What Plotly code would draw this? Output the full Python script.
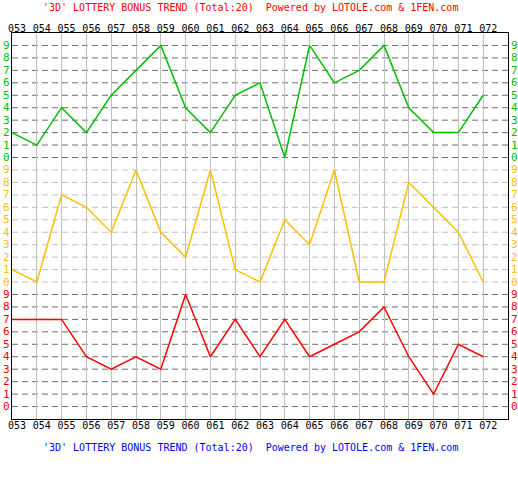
import plotly.graph_objects as go

# draw periods and the three digits (hundreds / tens / units)
periods = ["053", "054", "055", "056", "057", "058", "059", "060", "061", "062",
           "063", "064", "065", "066", "067", "068", "069", "070", "071", "072"]
green = [2, 1, 4, 2, 5, 7, 9, 4, 2, 5, 6, 0, 9, 6, 7, 9, 4, 2, 2, 5]
yellow = [1, 0, 7, 6, 4, 9, 4, 2, 9, 1, 0, 5, 3, 9, 0, 0, 8, 6, 4, 0]
red = [7, 7, 7, 4, 3, 4, 3, 9, 4, 7, 4, 7, 4, 5, 6, 8, 4, 1, 5, 4]
digits = list(range(10))

TITLE = "'3D' LOTTERY BONUS TREND (Total:20)  Powered by LOTOLE.com & 1FEN.com"
FONT = "DejaVu Sans Mono"

# each band gets its own block of 10 levels, stacked bottom to top
bands = [
    (red, 0, "#ff0000", "#6e6e6e"),
    (yellow, 10, "#ffbf00", "#c0c0c0"),
    (green, 20, "#00c000", "#6e6e6e"),
]

x = list(range(len(periods)))

fig = go.Figure()
shapes = []
annotations = []

for values, offset, color, grid in bands:
    fig.add_trace(go.Scatter(
        x=x,
        y=[v + offset for v in values],
        mode="lines",
        line=dict(color=color, width=1.5),
        hoverinfo="skip",
        showlegend=False
    ))
    for d in digits:
        shapes.append(dict(
            type="line", xref="paper", yref="y",
            x0=0, x1=1, y0=d + offset, y1=d + offset,
            line=dict(color=grid, width=1, dash="6px,4px"),
            layer="below"
        ))
        for side, anchor, shift in [(0, "right", 0), (1, "left", 1)]:
            annotations.append(dict(
                xref="paper", yref="y", x=side, y=d + offset,
                text=str(d), showarrow=False, xanchor=anchor, xshift=shift,
                font=dict(family=FONT, size=11, color=color)
            ))

annotations.append(dict(
    xref="paper", yref="paper", x=0, y=1, xshift=29, yshift=26,
    xanchor="left", yanchor="middle",
    text=TITLE, showarrow=False,
    font=dict(family=FONT, size=10, color="#ff0000")
))
annotations.append(dict(
    xref="paper", yref="paper", x=0, y=0, xshift=29, yshift=-28,
    xanchor="left", yanchor="middle",
    text=TITLE, showarrow=False,
    font=dict(family=FONT, size=10, color="#0000ff")
))

xaxis_common = dict(
    range=[0, len(periods)],
    tickvals=x,
    ticktext=periods,
    tickfont=dict(family=FONT, size=10, color="black"),
    ticks="",
    ticklabelshift=5,
    showgrid=True,
    gridcolor="#c0c0c0",
    gridwidth=1,
    zeroline=False,
    showline=True,
    linecolor="black",
    linewidth=1,
    fixedrange=True
)

fig.update_layout(
    width=518,
    height=500,
    margin=dict(l=8, r=10, t=33, b=81),
    plot_bgcolor="white",
    paper_bgcolor="white",
    shapes=shapes,
    annotations=annotations,
    xaxis=dict(**xaxis_common, side="bottom", mirror=True, ticklabelstandoff=-3),
    xaxis2=dict(**xaxis_common, side="top", overlaying="x", matches="x",
                ticklabelstandoff=-4),
    yaxis=dict(
        range=[-1, 30],
        showticklabels=False,
        showgrid=False,
        zeroline=False,
        showline=True,
        linecolor="black",
        linewidth=1,
        mirror=True,
        fixedrange=True
    )
)

# dummy trace so the top axis is drawn
fig.add_trace(go.Scatter(x=[None], y=[None], xaxis="x2", showlegend=False,
                         hoverinfo="skip"))

# drop the browser's default page margin so the chart sits at the corner
fig.write_html("out.html", config={"displayModeBar": False},
               post_script="document.body.style.margin = '0';")
